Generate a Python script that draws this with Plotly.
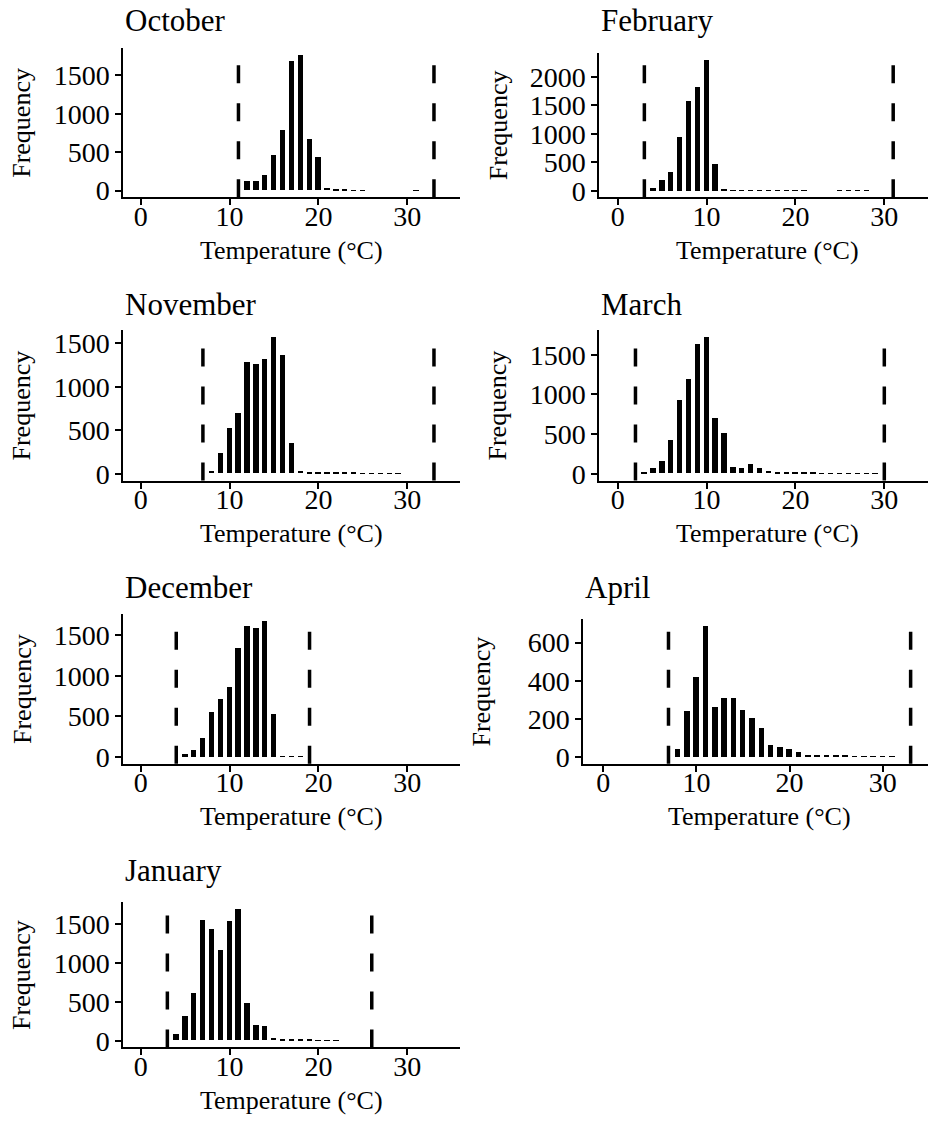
import plotly.graph_objects as go

# ---------------- data ----------------
months = ["October", "February", "November", "March", "December", "April", "January"]

oct_temp = [12, 13, 14, 15, 16, 17, 18, 19, 20, 21, 22, 23, 24, 25, 31]
oct_freq = [120, 120, 195, 463, 786, 1679, 1764, 667, 438, 30, 12, 6, 4, 3, 1]

feb_temp = [4, 5, 6, 7, 8, 9, 10, 11, 12, 13, 14, 15, 16, 17, 18, 19, 20, 21, 25, 26, 27, 28]
feb_freq = [52, 190, 333, 937, 1570, 1811, 2300, 460, 17, 10, 8, 6, 5, 4, 3, 3, 2, 2, 1, 1, 1, 1]

nov_temp = [8, 9, 10, 11, 12, 13, 14, 15, 16, 17, 18, 19, 20, 21, 22, 23, 24, 25, 26, 27, 28, 29]
nov_freq = [26, 238, 525, 696, 1282, 1259, 1316, 1569, 1365, 348, 30, 15, 8, 6, 5, 4, 4, 3, 3, 2, 2, 1]

mar_temp = [3, 4, 5, 6, 7, 8, 9, 10, 11, 12, 13, 14, 15, 16, 17, 18, 19, 20, 21, 22, 23, 24, 25, 26, 27, 28, 29]
mar_freq = [13, 63, 158, 417, 925, 1192, 1625, 1721, 692, 508, 75, 63, 117, 71, 33, 13, 8, 6, 5, 4, 3, 3, 2, 2, 2, 1, 1]

dec_temp = [5, 6, 7, 8, 9, 10, 11, 12, 13, 14, 15, 16, 17, 18]
dec_freq = [36, 89, 227, 547, 713, 863, 1337, 1612, 1584, 1673, 527, 8, 8, 4]

apr_temp = [8, 9, 10, 11, 12, 13, 14, 15, 16, 17, 18, 19, 20, 21, 22, 23, 24, 25, 26, 27, 28, 29, 30, 31]
apr_freq = [40, 243, 421, 688, 264, 307, 309, 247, 202, 153, 62, 53, 40, 28, 10, 7, 10, 7, 9, 4, 3, 3, 2, 1]

jan_temp = [4, 5, 6, 7, 8, 9, 10, 11, 12, 13, 14, 15, 16, 17, 18, 19, 20, 21, 22]
jan_freq = [85, 318, 615, 1543, 1437, 1157, 1539, 1696, 479, 195, 182, 34, 13, 8, 6, 5, 4, 3, 2]

# lower / upper thermal limits (dashed lines)
oct_limits = [11, 33]
feb_limits = [3, 31]
nov_limits = [7, 33]
mar_limits = [2, 30]
dec_limits = [4, 19]
apr_limits = [7, 33]
jan_limits = [3, 26]

x_ticks = [0, 10, 20, 30]
y_dticks = [500, 500, 500, 500, 500, 200, 500]

temps = [oct_temp, feb_temp, nov_temp, mar_temp, dec_temp, apr_temp, jan_temp]
freqs = [oct_freq, feb_freq, nov_freq, mar_freq, dec_freq, apr_freq, jan_freq]
limits = [oct_limits, feb_limits, nov_limits, mar_limits, dec_limits, apr_limits, jan_limits]

# ---------------- layout geometry (pixels) ----------------
W, H = 928, 1127
FONT = "Liberation Serif"
# (left, right, top, bottom, x of zero, px per degree)
panels = [
    (123.3, 460.0, 46.7, 197.3, 140.7, 8.887),
    (599.3, 928.0, 51.7, 197.3, 617.7, 8.887),
    (123.3, 460.0, 331.7, 483.3, 140.7, 8.887),
    (599.3, 928.0, 331.7, 483.3, 617.7, 8.887),
    (123.3, 460.0, 618.3, 769.3, 140.7, 8.887),
    (583.3, 928.0, 623.3, 769.3, 603.3, 9.313),
    (123.3, 460.0, 909.3, 1055.7, 140.7, 8.887),
]
label_centers = [291.7, 767.7, 291.7, 767.7, 291.7, 759.7, 291.7]
title_baselines = [31.7, 31.7, 317.7, 317.7, 603.7, 603.7, 889.7]


def px_x(p):
    return p / W


def px_y(p):
    return 1 - p / H


fig = go.Figure()
annotations = []
shapes = []

for i in range(7):
    left, right, top, bottom, x0, ppd = panels[i]
    ax = "" if i == 0 else str(i + 1)
    xr = [(left - x0) / ppd, (right - x0) / ppd]
    m = max(freqs[i])
    yr = [-0.05 * m, 1.05 * m]

    fig.add_trace(go.Bar(
        x=temps[i], y=freqs[i], width=0.6,
        marker=dict(color="black", line=dict(width=0)),
        xaxis="x" + ax, yaxis="y" + ax, showlegend=False,
    ))

    axis_common = dict(
        showline=True, linecolor="black", linewidth=2,
        ticks="outside", ticklen=6, tickwidth=2, tickcolor="black",
        showgrid=False, zeroline=False,
        tickfont=dict(family=FONT, size=28, color="black"),
    )
    fig.update_layout(**{
        "xaxis" + ax: dict(
            domain=[px_x(left), px_x(right)], range=xr,
            anchor="y" + ax, tickvals=x_ticks, ticklabelstandoff=-13,
            **axis_common),
        "yaxis" + ax: dict(
            domain=[px_y(bottom), px_y(top)], range=yr,
            anchor="x" + ax, tick0=0, dtick=y_dticks[i], **axis_common),
    })

    for lim in limits[i]:
        shapes.append(dict(
            type="line", xref="x" + ax, yref="y" + ax + " domain",
            x0=lim, x1=lim, y0=0, y1=1,
            line=dict(color="black", width=3.5, dash="18px,20px"),
        ))

    # panel title
    annotations.append(dict(
        text=months[i], xref="paper", yref="paper",
        x=px_x(left), y=px_y(title_baselines[i] + 7),
        xanchor="left", yanchor="bottom", showarrow=False,
        font=dict(family=FONT, size=31, color="black"),
    ))
    # y axis title
    annotations.append(dict(
        text="Frequency", xref="paper", yref="paper",
        x=px_x(22 + (left - 123.3)), y=px_y((top + bottom) / 2),
        xanchor="center", yanchor="middle", textangle=-90, showarrow=False,
        font=dict(family=FONT, size=26, color="black"),
    ))
    # x axis title
    annotations.append(dict(
        text="Temperature (°C)", xref="paper", yref="paper",
        x=px_x(label_centers[i]), y=px_y(bottom + 63 + 7),
        xanchor="center", yanchor="bottom", showarrow=False,
        font=dict(family=FONT, size=26, color="black"),
    ))

fig.update_layout(
    width=W, height=H,
    margin=dict(l=0, r=0, t=0, b=0),
    paper_bgcolor="white", plot_bgcolor="white",
    bargap=0, annotations=annotations, shapes=shapes,
    font=dict(family=FONT, color="black"),
)

fig.write_html(
    "out.html",
    config={"displayModeBar": False},
    post_script=(
        "document.body.style.margin='0px';"
        "document.body.style.overflow='hidden';"
        "document.documentElement.style.overflow='hidden';"
        "var gd=document.getElementById('{plot_id}');"
        "gd.style.position='fixed';gd.style.left='0px';gd.style.top='0px';"
    ),
)
